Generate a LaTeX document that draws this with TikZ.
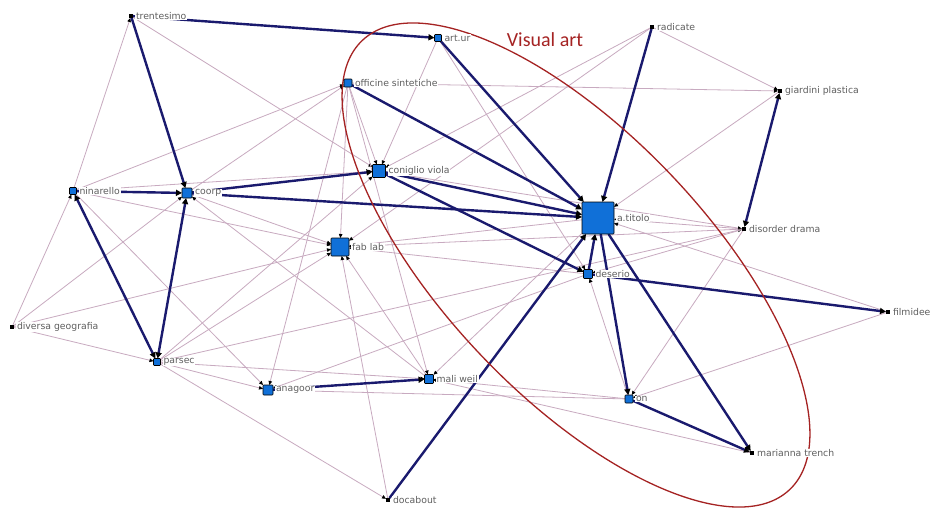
\documentclass[tikz,border=0pt]{standalone}
\usepackage{fontspec}
\usepackage{tikz}
\usetikzlibrary{arrows.meta}
\newfontfamily\netfont{DejaVu Sans}
\newfontfamily\tagfont{Carlito}
\definecolor{linkblue}{RGB}{26,26,110}
\definecolor{tiepink}{RGB}{200,170,192}
\definecolor{boxblue}{RGB}{16,112,216}
\definecolor{namegray}{RGB}{95,95,95}
\definecolor{ringred}{RGB}{165,35,35}
\newcommand*\dotsize{4pt}
\newcommand*\namegap{2pt}
\pgfdeclarelayer{edges}
\pgfsetlayers{edges,main}
\tikzset{
    actor/.style     = {draw=black, fill=boxblue, rectangle, rounded corners=0.8pt,
                        inner sep=0pt, outer sep=0pt, line width=0.6pt},
    dotactor/.style  = {fill=black, rectangle, minimum size=\dotsize,
                        inner sep=0pt, outer sep=0pt},
    actorname/.style = {anchor=west, fill=white, inner sep=0.8pt, text=namegray,
                        font=\netfont\fontsize{9.3}{10}\selectfont},
    tie/.style       = {draw=tiepink, line width=0.8pt,
                        -{Triangle[length=4pt,width=3.5pt,color=black]}},
    link/.style      = {draw=linkblue, line width=2.4pt,
                        -{Triangle[length=6pt,width=6pt,color=black]}},
    twolink/.style   = {draw=linkblue, line width=2.4pt,
                        {Triangle[length=6pt,width=6pt,color=black]}-{Triangle[length=6pt,width=6pt,color=black]}},
  }

\begin{document}
\begin{tikzpicture}[x=1pt,y=-1pt]
    \useasboundingbox (0,0) rectangle (934,512);

    % Blue actors: name / x / y / box size / label
    \foreach \id/\x/\y/\s/\txt in {
        atitolo/598/218/32/a.titolo,
        fablab/340/247/18/fab lab,
        coniglio/379/171/13/coniglio viola,
        coorp/187/193/10/coorp,
        anagoor/268/390/10/anagoor,
        maliweil/429/379/9/mali weil,
        deserio/588/274/9/deserio,
        officine/348/83/8/officine sintetiche,
        on/629/399/8/on,
        artur/438/38/7/art.ur,
        ninarello/73/191/7/ninarello,
        parsec/157/362/7/parsec} {
        \node[actor, minimum size=\s pt] (\id) at (\x,\y) {};
        \node[actorname] (\id-name) at ([xshift=\namegap]\id.east) {\txt};
    }

    % Black actors: name / x / y / label
    \foreach \id/\x/\y/\txt in {
        trentesimo/131/16/trentesimo,
        radicate/652/27/radicate,
        giardini/780/91/giardini plastica,
        disorder/744/229/disorder drama,
        filmidee/888/312/filmidee,
        diversa/12/327/diversa geografia,
        marianna/752/453/marianna trench,
        docabout/388/500/docabout} {
        \node[dotactor] (\id) at (\x,\y) {};
        \node[actorname] (\id-name) at ([xshift=\namegap]\id.east) {\txt};
    }

    \begin{pgfonlayer}{edges}
    \fill[white] (0,0) rectangle (934,512);

    % Weak ties
    \foreach \a/\b in {
        ninarello/trentesimo, trentesimo/coniglio, diversa/ninarello,
        ninarello/officine, ninarello/coniglio, ninarello/fablab,
        ninarello/anagoor, coorp/officine, officine/coniglio,
        officine/fablab, officine/anagoor, officine/maliweil,
        officine/giardini, coorp/fablab, maliweil/coorp, diversa/coorp,
        diversa/fablab, diversa/parsec, parsec/coniglio, parsec/fablab,
        parsec/maliweil, parsec/anagoor, parsec/docabout, parsec/disorder,
        artur/coniglio, artur/deserio, radicate/giardini, radicate/fablab,
        radicate/coniglio, giardini/atitolo, disorder/atitolo,
        filmidee/atitolo, coniglio/disorder, atitolo/fablab,
        disorder/fablab, deserio/fablab, docabout/fablab, maliweil/fablab,
        deserio/anagoor, on/anagoor, atitolo/maliweil, on/maliweil,
        marianna/maliweil, disorder/deserio, on/deserio, disorder/on,
        filmidee/on} {
        \draw[tie] (\a) -- (\b);
    }

    % Strong ties
    \foreach \a/\b in {
        trentesimo/artur, trentesimo/coorp, ninarello/coorp,
        coorp/coniglio, coorp/atitolo, coniglio/atitolo, coniglio/deserio,
        officine/atitolo, artur/atitolo, radicate/atitolo, deserio/atitolo,
        atitolo/on, atitolo/marianna, on/marianna, deserio/filmidee,
        anagoor/maliweil, docabout/atitolo} {
        \draw[link] (\a) -- (\b);
    }
    \foreach \a/\b in {ninarello/parsec, coorp/parsec, giardini/disorder} {
        \draw[twolink] (\a) -- (\b);
    }

    % Visual art group
    \draw[ringred, line width=1.3pt] (576,265)
        ellipse [x radius=310, y radius=131, rotate=-46.4];
    \end{pgfonlayer}

    \node[text=ringred, font=\tagfont\fontsize{20}{22}\selectfont] (visual) at (545,40) {Visual art};
\end{tikzpicture}
\end{document}
